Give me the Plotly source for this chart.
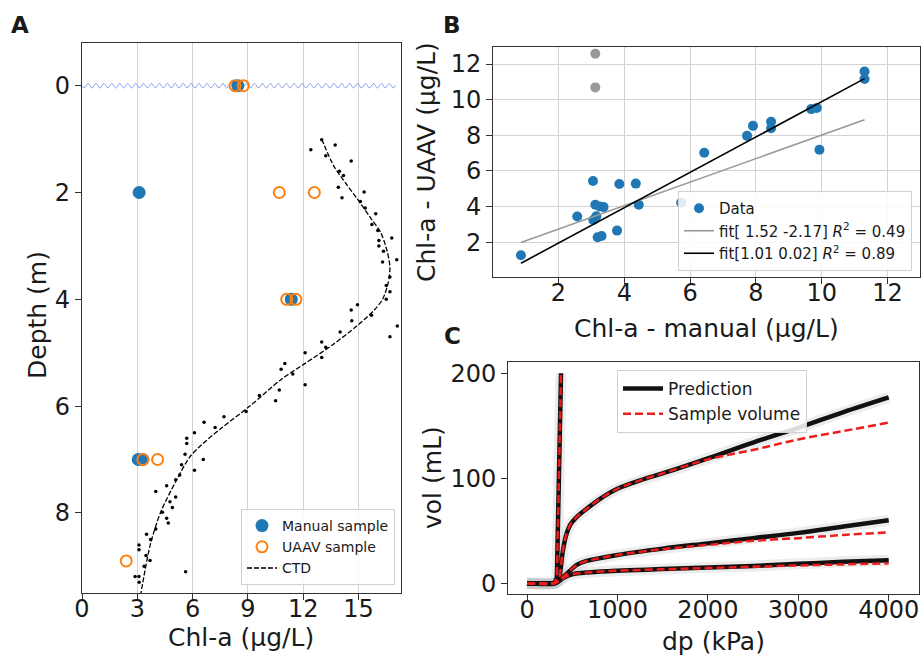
import numpy as np
import plotly.graph_objects as go

W, H = 922, 659
FONT = "DejaVu Sans"

# ---------------- Panel A data ----------------
manual_chl = [8.45, 3.1, 11.35, 3.05, 3.3]
manual_depth = [0, 2, 4, 7, 7]
uaav_chl = [8.3, 8.75, 10.7, 12.6, 11.1, 11.6, 3.3, 4.1, 2.4]
uaav_depth = [0, 0, 2, 2, 4, 4, 7, 7, 8.9]
ctd_chl = [12.41, 13.0, 13.73, 13.22, 14.6, 13.96, 14.18, 13.9, 14.1, 15.3, 15.1, 15.36,
           15.93, 15.72, 16.04, 16.1, 16.1, 16.35, 16.8, 17.07, 16.3, 16.7, 16.5, 16.7,
           16.5, 14.94, 14.6, 17.1, 16.7, 14.63, 15.7, 14.0, 13.0, 13.22, 13.0, 12.1,
           11.0, 10.8, 11.43, 12.1, 10.7, 10.5, 9.62, 8.9, 7.7, 7.22, 6.62, 6.58, 6.1,
           5.68, 5.68, 6.1, 5.59, 5.4, 5.3, 5.08, 5.08, 4.59, 4.77, 4.9, 4.36, 4.59,
           4.68, 4.0, 4.0, 3.5, 3.72, 3.09, 3.09, 3.47, 3.69, 3.37, 3.09, 2.88, 3.1, 5.62]
ctd_depth = [1.20, 1.01, 1.11, 1.31, 1.41, 1.6, 1.68, 1.9, 2.1, 1.99, 2.17, 2.29,
             2.4, 2.6, 2.71, 2.9, 3.0, 3.1, 2.85, 3.26, 3.3, 3.58, 3.74, 3.86,
             4.0, 4.1, 4.2, 4.5, 4.7, 4.4, 4.3, 4.61, 4.8, 4.9, 5.09, 5.0,
             5.2, 5.31, 5.4, 5.6, 5.7, 5.9, 5.8, 6.1, 6.2, 6.4, 6.3, 7.0, 6.5,
             6.6, 6.7, 7.2, 6.9, 7.1, 7.29, 7.38, 7.7, 7.49, 7.79, 7.9, 7.99, 8.1,
             8.19, 7.6, 8.3, 8.4, 8.5, 8.6, 8.69, 8.8, 8.89, 9.0, 9.19, 9.19, 9.3, 9.1]
ctd_fit_chl = [13.0, 13.65, 14.35, 15.1, 15.7, 16.2, 16.55, 16.7, 16.6, 16.3, 15.85, 14.9,
               13.6, 12.1, 10.8, 9.1, 7.6, 6.5, 5.85, 5.1, 4.25, 3.7, 3.3, 3.2]
ctd_fit_depth = [1.0, 1.5, 1.85, 2.2, 2.5, 2.75, 3.1, 3.4, 3.7, 4.0, 4.2, 4.5,
                 4.85, 5.2, 5.5, 6.0, 6.4, 6.72, 6.95, 7.4, 8.0, 8.6, 9.3, 9.5]

# ---------------- Panel B data ----------------
b_manual = [0.86, 2.57, 3.05, 3.12, 3.37, 3.25, 3.06, 3.15, 3.19, 3.31, 3.78, 3.85,
            4.35, 4.44, 5.73, 6.43, 7.73, 7.91, 8.46, 8.46, 9.68, 9.85, 9.93, 11.3, 11.3]
b_uaav = [1.27, 3.44, 5.44, 4.1, 3.97, 4.0, 3.25, 3.45, 2.28, 2.35, 2.65, 5.27,
          5.29, 4.1, 4.22, 7.02, 7.97, 8.53, 8.76, 8.4, 9.47, 9.53, 7.19, 11.58, 11.16]
b_out_manual = [3.12, 3.12]
b_out_uaav = [12.58, 10.69]
fit1_x = [0.86, 11.3]
fit1_y = [1.98, 8.87]
fit2_x = [0.86, 11.3]
fit2_y = [0.82, 11.18]

# ---------------- Panel C data ----------------
c1_dp = [0, 150, 300, 330, 376]
c1_vol = [0, 0, 0, 5, 200]
c2_dp = [0, 300, 345, 365, 395, 430, 480, 560, 660, 800, 1000, 1250, 1550, 2000, 2500, 3000, 3500, 4000]
c2_pred = [0, 0, 3, 9.5, 30, 45, 56, 64, 71, 80, 90, 98, 106, 119, 134, 148, 163, 177]
c2_samp = [0, 0, 3, 9.5, 30, 45, 56, 64, 71, 80, 90, 98, 106, 118, 127, 137, 145, 153]
c3_dp = [0, 300, 350, 400, 450, 500, 550, 650, 750, 1000, 1500, 2000, 2500, 3000, 3500, 4000]
c3_pred = [0, 0, 2, 6, 10, 14, 17.5, 21, 23, 27, 33, 38, 43, 48, 54, 60]
c3_samp = [0, 0, 2, 6, 10, 14, 17.5, 21, 23, 27, 32.5, 36.5, 40.5, 43, 46, 48.5]
c4_dp = [0, 300, 350, 400, 500, 700, 1000, 1500, 2000, 2500, 3000, 3500, 4000]
c4_pred = [0, 0, 2, 5, 8.5, 10.5, 12, 13.5, 15, 16.5, 18.5, 20.5, 22]
c4_samp = [0, 0, 2, 5, 8.5, 10.5, 12, 13.3, 14.6, 15.8, 17, 18, 19]

BLUE = "#1f77b4"
ORANGE = "#ff7f0e"

fig = go.Figure()

# --- Panel A ---
wave_x = np.linspace(0, 17.0, 800)
wave_y = 0.045 * np.sin(2 * np.pi * wave_x / 0.43)
fig.add_trace(go.Scatter(x=wave_x, y=wave_y, mode="lines", line=dict(color="rgba(110,125,225,0.75)", width=1),
                         showlegend=False, hoverinfo="skip", xaxis="x", yaxis="y"))
fig.add_trace(go.Scatter(x=ctd_chl, y=ctd_depth, mode="markers", marker=dict(color="black", size=3.5),
                         showlegend=False, xaxis="x", yaxis="y"))
fig.add_trace(go.Scatter(x=ctd_fit_chl, y=ctd_fit_depth, mode="lines", name="CTD", line_shape="spline",
                         line=dict(color="black", width=1.3, dash="5px,2px", smoothing=0.8),
                         legend="legend", legendrank=3, xaxis="x", yaxis="y"))
fig.add_trace(go.Scatter(x=manual_chl, y=manual_depth, mode="markers", name="Manual sample",
                         marker=dict(color=BLUE, size=13), legend="legend", legendrank=1,
                         xaxis="x", yaxis="y"))
fig.add_trace(go.Scatter(x=uaav_chl, y=uaav_depth, mode="markers", name="UAAV sample",
                         marker=dict(color="rgba(0,0,0,0)", size=11, line=dict(color=ORANGE, width=2)),
                         legend="legend", legendrank=2, xaxis="x", yaxis="y"))

# --- Panel B ---
fig.add_trace(go.Scatter(x=b_out_manual, y=b_out_uaav, mode="markers", marker=dict(color="#999999", size=10),
                         showlegend=False, xaxis="x2", yaxis="y2"))
fig.add_trace(go.Scatter(x=b_manual, y=b_uaav, mode="markers", name="Data", marker=dict(color=BLUE, size=10),
                         legend="legend2", legendrank=1, xaxis="x2", yaxis="y2"))
fig.add_trace(go.Scatter(x=fit1_x, y=fit1_y, mode="lines", name="fit[ 1.52 -2.17] <i>R</i><sup>2</sup> = 0.49",
                         line=dict(color="#999999", width=1.6), legend="legend2", legendrank=2,
                         xaxis="x2", yaxis="y2"))
fig.add_trace(go.Scatter(x=fit2_x, y=fit2_y, mode="lines", name="fit[1.01 0.02] <i>R</i><sup>2</sup> = 0.89",
                         line=dict(color="black", width=1.6), legend="legend2", legendrank=3,
                         xaxis="x2", yaxis="y2"))

# --- Panel C ---
curves = [(c1_dp, c1_vol, c1_vol, "linear"), (c2_dp, c2_pred, c2_samp, "spline"),
          (c3_dp, c3_pred, c3_samp, "spline"), (c4_dp, c4_pred, c4_samp, "spline")]
for dp, pred, samp, shp in curves:
    fig.add_trace(go.Scatter(x=dp, y=pred, mode="lines", line=dict(color="rgba(170,170,170,0.22)", width=11, shape=shp),
                             showlegend=False, hoverinfo="skip", xaxis="x3", yaxis="y3"))
for i, (dp, pred, samp, shp) in enumerate(curves):
    fig.add_trace(go.Scatter(x=dp, y=pred, mode="lines", name="Prediction", legendgroup="pred",
                             showlegend=(i == 0), line=dict(color="#111111", width=4.5, shape=shp),
                             legend="legend3", legendrank=1, xaxis="x3", yaxis="y3"))
for i, (dp, pred, samp, shp) in enumerate(curves):
    fig.add_trace(go.Scatter(x=dp, y=samp, mode="lines", name="Sample volume", legendgroup="samp",
                             showlegend=(i == 0), line=dict(color="#ee1c1c", width=2.5, dash="8px,4px", shape=shp),
                             legend="legend3", legendrank=2, xaxis="x3", yaxis="y3"))

def dx(p):
    return p / W

def dy(p):
    return 1 - p / H

axis_common = dict(showline=True, mirror=True, linecolor="#333333", linewidth=1.2, ticks="outside",
                   ticklen=6, tickwidth=1.2, tickcolor="#333333", zeroline=False, automargin=False,
                   tickfont=dict(family=FONT, size=24, color="#1a1a1a"), gridcolor="#d3d3d3", gridwidth=1.2)
xaxis_common = dict(axis_common, ticklabelstandoff=-12)

legend_common = dict(bgcolor="rgba(255,255,255,0.85)", bordercolor="#d0d0d0", borderwidth=1,
                     traceorder="normal")

fig.update_layout(
    width=W, height=H, margin=dict(l=0, r=0, t=0, b=0, autoexpand=False),
    paper_bgcolor="white", plot_bgcolor="white",
    font=dict(family=FONT, color="#1a1a1a"),
    xaxis=dict(domain=[dx(82), dx(401)], anchor="y", range=[0, 17.3], tickvals=[0, 3, 6, 9, 12, 15],
               showgrid=True, **xaxis_common),
    yaxis=dict(domain=[dy(593), dy(43)], anchor="x", range=[9.5, -0.8], tickvals=[0, 2, 4, 6, 8],
               showgrid=False, **axis_common),
    xaxis2=dict(domain=[dx(493.3), dx(919.5)], anchor="y2", range=[0.02, 12.97],
                tickvals=[2, 4, 6, 8, 10, 12], showgrid=True, **xaxis_common),
    yaxis2=dict(domain=[dy(277.3), dy(47.3)], anchor="x2", range=[0.03, 12.94],
                tickvals=[2, 4, 6, 8, 10, 12], showgrid=True, **axis_common),
    xaxis3=dict(domain=[dx(508.3), dx(919)], anchor="y3", range=[-207, 4335],
                tickvals=[0, 1000, 2000, 3000, 4000], showgrid=False, **xaxis_common),
    yaxis3=dict(domain=[dy(594), dy(361.7)], anchor="x3", range=[-10.2, 211],
                tickvals=[0, 100, 200], showgrid=False, **axis_common),
    legend=dict(x=dx(395), xanchor="right", y=dy(585), yanchor="bottom",
                font=dict(family=FONT, size=14), **legend_common),
    legend2=dict(x=dx(912), xanchor="right", y=dy(271), yanchor="bottom",
                 font=dict(family=FONT, size=15), **legend_common),
    legend3=dict(x=dx(617), xanchor="left", y=dy(370), yanchor="top", itemwidth=40,
                 font=dict(family=FONT, size=17), **legend_common),
)

annotations = [
    dict(text="<b>A</b>", x=dx(20), y=dy(25), font=dict(size=23)),
    dict(text="<b>B</b>", x=dx(452), y=dy(25), font=dict(size=23)),
    dict(text="<b>C</b>", x=dx(452), y=dy(336), font=dict(size=23)),
    dict(text="Depth (m)", x=dx(37), y=dy(315), textangle=-90, font=dict(size=25)),
    dict(text="Chl-a (µg/L)", x=dx(241), y=dy(637), font=dict(size=25)),
    dict(text="Chl-a - UAAV (µg/L)", x=dx(427), y=dy(162), textangle=-90, font=dict(size=25)),
    dict(text="Chl-a - manual (µg/L)", x=dx(706), y=dy(328), font=dict(size=25)),
    dict(text="vol (mL)", x=dx(432), y=dy(478), textangle=-90, font=dict(size=25)),
    dict(text="dp (kPa)", x=dx(713), y=dy(641), font=dict(size=25)),
]
for a in annotations:
    a.update(xref="paper", yref="paper", showarrow=False, xanchor="center", yanchor="middle")
    a["font"].update(family=FONT, color="#1a1a1a")
fig.update_layout(annotations=annotations)

fig.write_html("out.html", config={"displayModeBar": False},
               post_script="document.body.style.margin='0px';document.body.style.overflow='hidden';")
